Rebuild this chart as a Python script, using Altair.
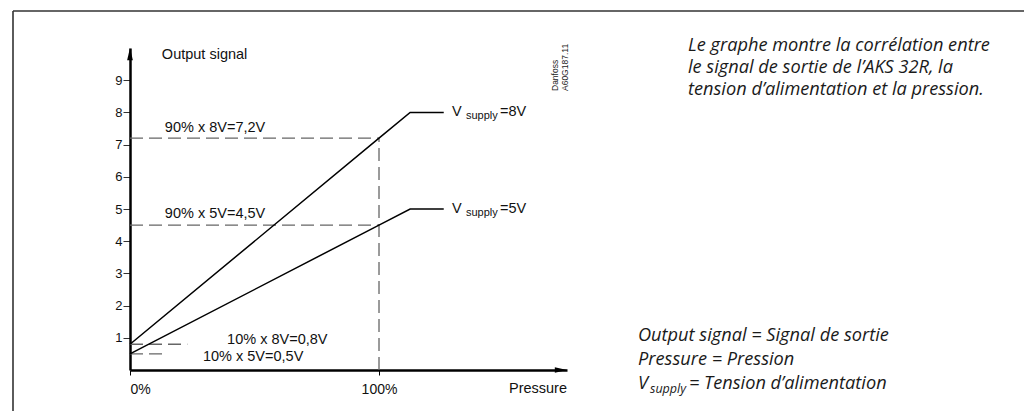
import altair as alt
import pandas as pd

# ---------------- data ----------------
pressure_pct = [0, 100, 112.5, 126]
out_8v = [0.8, 7.2, 8.0, 8.0]
out_5v = [0.5, 4.5, 5.0, 5.0]

y_ticks = [1, 2, 3, 4, 5, 6, 7, 8, 9]
x_ticks = [0, 100]

# dashed reference lines (start/end in pressure % and output V)
ref_x = [0, 0, 100, 0, 0]
ref_x2 = [100, 100, 100, 23, 15]
ref_y = [7.2, 4.5, 0, 0.8, 0.5]
ref_y2 = [7.2, 4.5, 7.2, 0.8, 0.5]

# annotations
ann_text = ["Output signal", "90% x 8V=7,2V", "90% x 5V=4,5V", "10% x 8V=0,8V", "10% x 5V=0,5V"]
ann_x = [12.8, 14, 14, 39, 29.3]
ann_y = [9.78, 7.52, 4.84, 0.93, 0.40]

vs_levels = [8, 5]
vs_text = ["=8V", "=5V"]

X_MAX = 175.5
Y_MAX = 10

FONT = "Liberation Sans"
IFONT = "Open Sans"

lines_df = pd.DataFrame({
    "p": pressure_pct * 2,
    "v": out_8v + out_5v,
    "s": ["8V"] * len(pressure_pct) + ["5V"] * len(pressure_pct),
})
ref_df = pd.DataFrame({"x": ref_x, "x2": ref_x2, "y": ref_y, "y2": ref_y2})
ann_df = pd.DataFrame({"x": ann_x, "y": ann_y, "t": ann_text})
vs_df = pd.DataFrame({"x": [129.3, 129.3], "y": vs_levels, "t": vs_text})

xs = alt.Scale(domain=[0, X_MAX], nice=False, zero=False)
ys = alt.Scale(domain=[0, Y_MAX], nice=False, zero=False)

x_axis = alt.Axis(values=x_ticks, labelExpr="datum.value + '%'", title=None, grid=False,
                  domainColor="black", domainWidth=2.5, tickColor="black", tickSize=5,
                  labelFont=FONT, labelFontSize=14, labelColor="#111", labelPadding=7)
y_axis = alt.Axis(values=y_ticks, title=None, grid=False,
                  domainColor="black", domainWidth=2.5, tickColor="#333", tickSize=7,
                  labelFont=FONT, labelFontSize=13, labelColor="#111", labelPadding=1)

base_lines = alt.Chart(lines_df).mark_line(color="black", strokeWidth=1.5).encode(
    x=alt.X("p:Q", scale=xs, axis=x_axis),
    y=alt.Y("v:Q", scale=ys, axis=y_axis),
    detail="s:N",
)

refs = alt.Chart(ref_df).mark_rule(color="#666", strokeWidth=1.3, strokeDash=[13, 6]).encode(
    x="x:Q", x2="x2:Q", y="y:Q", y2="y2:Q"
)

ann = alt.Chart(ann_df).mark_text(align="left", baseline="middle", font=FONT, fontSize=14.5,
                                  color="#111").encode(x="x:Q", y="y:Q", text="t:N")

vs_v = alt.Chart(vs_df).mark_text(align="left", baseline="middle", font=FONT, fontSize=14.5,
                                  color="#111", text="V").encode(x="x:Q", y="y:Q")
vs_sub = alt.Chart(vs_df).mark_text(align="left", baseline="middle", font=FONT, fontSize=11,
                                    color="#111", text="supply", dx=14, dy=4).encode(x="x:Q", y="y:Q")
vs_val = alt.Chart(vs_df).mark_text(align="left", baseline="middle", font=FONT, fontSize=14.5,
                                    color="#111", dx=48).encode(x="x:Q", y="y:Q", text="t:N")

pressure_lbl = alt.Chart(pd.DataFrame({"x": [X_MAX], "y": [0]})).mark_text(
    align="right", baseline="middle", font=FONT, fontSize=14.5, color="#111", dy=19, text="Pressure"
).encode(x="x:Q", y="y:Q")

# axis arrowheads (tip at the end of each axis), drawn as small filled triangles
AY_LEN, AY_HALF = 0.38, 1.15      # in V / % units (≈12 px tall, ≈6 px wide)
AX_LEN, AX_HALF = 4.9, 0.085      # in % / V units (≈12 px long, ≈5.5 px tall)
arrow_y = alt.Chart(pd.DataFrame({
    "y": [Y_MAX - AY_LEN, Y_MAX], "xa": [-AY_HALF, 0], "xb": [AY_HALF, 0]
})).mark_area(orient="horizontal", color="black", opacity=1).encode(
    y="y:Q", x="xa:Q", x2="xb:Q"
)
arrow_x = alt.Chart(pd.DataFrame({
    "x": [X_MAX - AX_LEN, X_MAX], "ya": [-AX_HALF, 0], "yb": [AX_HALF, 0]
})).mark_area(orient="vertical", color="black", opacity=1).encode(
    x="x:Q", y="ya:Q", y2="yb:Q"
)

EMPTY = alt.Data(values=[{}])


def ptext(text, x, y, size, italic=True, font=IFONT, baseline="alphabetic", **kw):
    return alt.Chart(EMPTY).mark_text(
        text=text, align="left", baseline=baseline, font=font, fontSize=size,
        fontStyle="italic" if italic else "normal", color="#1a1a1a", **kw
    ).encode(x=alt.value(x), y=alt.value(y))


# page offset of plot origin: (130, 48)
IS = 18.2
right_top = [
    ptext("Le graphe montre la corrélation entre", 558, 3, IS),
    ptext("le signal de sortie de l’AKS 32R, la", 558, 25, IS),
    ptext("tension d’alimentation et la pression.", 558, 47, IS),
]
right_bot = [
    ptext("Output signal = Signal de sortie", 508, 293, IS),
    ptext("Pressure = Pression", 508, 317, IS),
    ptext("V", 508, 341, IS),
    ptext("supply", 520, 345, 12.5),
    ptext("= Tension d’alimentation", 559, 341, IS),
]

danfoss = [
    ptext("Danfoss", 425, 43, 8.5, italic=False, font=FONT, angle=270, baseline="middle"),
    ptext("A60G187.11", 435, 43, 8.5, italic=False, font=FONT, angle=270, baseline="middle"),
]

frame_top = alt.Chart(EMPTY).mark_rule(color="#333", strokeWidth=1.6).encode(
    x=alt.value(-117), x2=alt.value(902), y=alt.value(-37)
)
frame_left = alt.Chart(EMPTY).mark_rule(color="#333", strokeWidth=1.6).encode(
    x=alt.value(-117), y=alt.value(-37), y2=alt.value(371)
)

chart = alt.layer(
    frame_top, frame_left,
    refs, base_lines, arrow_y, arrow_x,
    ann, vs_v, vs_sub, vs_val, pressure_lbl,
    *danfoss, *right_top, *right_bot,
).properties(
    width=437, height=322,
    autosize=alt.AutoSizeParams(type="none"),
    padding={"left": 122, "top": 40, "right": 457, "bottom": 41},
).configure_view(stroke=None)

chart.save("out.html", embed_options={"renderer": "svg", "actions": False})
